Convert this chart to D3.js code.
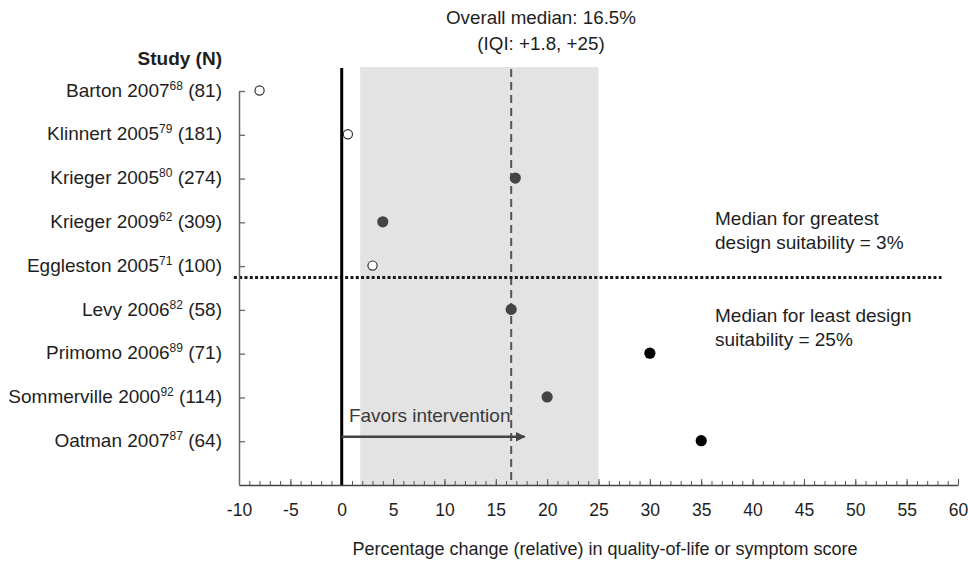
<!DOCTYPE html>
<html>
<head>
<meta charset="utf-8">
<script src="https://cdn.jsdelivr.net/npm/d3@7"></script>
<style>
  html, body { margin: 0; padding: 0; background: #fff; }
  svg { display: block; font-family: "Liberation Sans", Arial, sans-serif; }
</style>
</head>
<body>
<svg id="chart" width="968" height="562"></svg>
<script>
// Studies, top to bottom
const studyNames = ["Barton", "Klinnert", "Krieger", "Krieger", "Eggleston", "Levy", "Primomo", "Sommerville", "Oatman"];
const studyYears = ["2007", "2005", "2005", "2009", "2005", "2006", "2006", "2000", "2007"];
const studyRefs = ["68", "79", "80", "62", "71", "82", "89", "92", "87"];
const sampleSizes = [81, 181, 274, 309, 100, 58, 71, 114, 64];
// Relative % change in quality-of-life or symptom score
const pctChange = [-8, 0.6, 16.9, 4, 3, 16.5, 30, 20, 35];
// Marker style per study
const markerType = ["open", "open", "gray", "gray", "open", "gray", "black", "gray", "black"];

// Summary statistics
const overallMedian = 16.5;
const iqi = [1.8, 25];
const groupMedians = [3, 25];

// Axis ticks
const xTickLabels = [-10, -5, 0, 5, 10, 15, 20, 25, 30, 35, 40, 45, 50, 55, 60];
const xMinorTicks = d3.range(-10, 61, 1);

const svg = d3.select("#chart");
const textColor = "#1e1e1e";

const x = d3.scaleLinear().domain([-10, 60]).range([239, 958]);
const y = d3.scaleLinear().domain([0, 9]).range([91, 485]);

const plotTop = 67;
const plotBottom = y(9);

// IQI band
svg.append("rect")
  .attr("x", x(iqi[0]))
  .attr("y", plotTop)
  .attr("width", x(iqi[1]) - x(iqi[0]))
  .attr("height", plotBottom - plotTop)
  .attr("fill", "#e3e3e3");

// Overall median
svg.append("line")
  .attr("x1", x(overallMedian)).attr("x2", x(overallMedian))
  .attr("y1", plotTop + 2).attr("y2", plotBottom)
  .attr("stroke", "#555").attr("stroke-width", 2)
  .attr("stroke-dasharray", "8,5");

// Divider between design-suitability groups
svg.append("line")
  .attr("x1", x(-10.5)).attr("x2", x(58.4))
  .attr("y1", y(4.26)).attr("y2", y(4.26))
  .attr("stroke", "#1a1a1a").attr("stroke-width", 3)
  .attr("stroke-dasharray", "3,2.3");

// x axis: minor ticks
svg.append("g")
  .attr("transform", `translate(0,${plotBottom})`)
  .call(d3.axisBottom(x).tickValues(xMinorTicks).tickSize(-4).tickSizeOuter(0).tickFormat(""))
  .call(g => g.select(".domain").attr("stroke", "#444").attr("stroke-width", 1.3))
  .call(g => g.selectAll(".tick line").attr("stroke", "#555"));

// x axis: labelled ticks
svg.append("g")
  .attr("transform", `translate(0,${plotBottom})`)
  .call(d3.axisBottom(x).tickValues(xTickLabels).tickSize(-6).tickSizeOuter(0).tickPadding(19).tickFormat(d => String(d)))
  .call(g => g.select(".domain").remove())
  .call(g => g.selectAll(".tick line").attr("stroke", "#555"))
  .call(g => g.selectAll(".tick text")
    .attr("font-family", "'Liberation Sans', Arial, sans-serif")
    .attr("font-size", 17.5).attr("fill", textColor));

// y axis (inward ticks, no labels)
svg.append("g")
  .attr("transform", `translate(${x(-10)},0)`)
  .call(d3.axisRight(y).tickValues(d3.range(0, 9)).tickSize(6).tickSizeOuter(0).tickFormat(""))
  .call(g => g.select(".domain").attr("stroke", "#666").attr("stroke-width", 1.5))
  .call(g => g.selectAll(".tick line").attr("stroke", "#666").attr("stroke-width", 1.3));

// Zero line
svg.append("line")
  .attr("x1", x(0)).attr("x2", x(0))
  .attr("y1", plotTop + 1).attr("y2", plotBottom)
  .attr("stroke", "#000").attr("stroke-width", 3);

// Favors intervention arrow
const arrowY = y(7.9);
svg.append("defs").append("marker")
  .attr("id", "head")
  .attr("viewBox", "0 0 10 10")
  .attr("refX", 9).attr("refY", 5)
  .attr("markerWidth", 4).attr("markerHeight", 4)
  .attr("orient", "auto")
  .append("path").attr("d", "M0,0L10,5L0,10Z").attr("fill", "#444");
svg.append("line")
  .attr("x1", x(0)).attr("x2", x(17.8))
  .attr("y1", arrowY).attr("y2", arrowY)
  .attr("stroke", "#444").attr("stroke-width", 2.5)
  .attr("marker-end", "url(#head)");
svg.append("text")
  .attr("x", x(0.7)).attr("y", y(7.55))
  .attr("font-size", 19).attr("fill", "#3a3a3a")
  .text("Favors intervention");

// Study points
const fills = { open: "#fff", gray: "#444", black: "#000" };
svg.append("g").selectAll("circle")
  .data(pctChange)
  .join("circle")
  .attr("cx", d => x(d))
  .attr("cy", (d, i) => y(i) - 0.5)
  .attr("r", (d, i) => markerType[i] === "open" ? 4.6 : 5.6)
  .attr("fill", (d, i) => fills[markerType[i]])
  .attr("stroke", (d, i) => markerType[i] === "open" ? "#333" : "none")
  .attr("stroke-width", 1.2);

// Study labels
const labels = svg.append("g")
  .attr("font-size", 19).attr("fill", textColor).attr("text-anchor", "end");
labels.append("text")
  .attr("x", 222).attr("y", 58).attr("dy", "0.35em")
  .attr("font-weight", "bold")
  .text("Study (N)");
studyNames.forEach((name, i) => {
  const t = labels.append("text").attr("x", 222).attr("y", y(i) - 1).attr("dy", "0.35em");
  t.append("tspan").text(`${name} ${studyYears[i]}`);
  t.append("tspan").attr("font-size", 12).attr("dy", -7).text(studyRefs[i]);
  t.append("tspan").attr("dy", 7).text(` (${sampleSizes[i]})`);
});

// Overall median heading
const head = svg.append("text")
  .attr("text-anchor", "middle").attr("font-size", 18.8).attr("fill", textColor);
head.append("tspan").attr("x", 541).attr("y", 17).attr("dy", "0.35em")
  .text(`Overall median: ${overallMedian}%`);
head.append("tspan").attr("x", 541).attr("y", 43).attr("dy", "0.35em")
  .text(`(IQI: +${iqi[0]}, +${iqi[1]})`);

// Group median notes
const notes = svg.append("g").attr("font-size", 19).attr("fill", textColor);
const noteLines = [
  ["Median for greatest", 218],
  [`design suitability = ${groupMedians[0]}%`, 242],
  ["Median for least design", 315],
  [`suitability = ${groupMedians[1]}%`, 339]
];
noteLines.forEach(([txt, yy]) => {
  notes.append("text").attr("x", 715).attr("y", yy).attr("dy", "0.35em").text(txt);
});

// x-axis title
svg.append("text")
  .attr("x", 605).attr("y", 549).attr("dy", "0.35em")
  .attr("text-anchor", "middle").attr("font-size", 18).attr("fill", textColor)
  .text("Percentage change (relative) in quality-of-life or symptom score");
</script>
</body>
</html>
